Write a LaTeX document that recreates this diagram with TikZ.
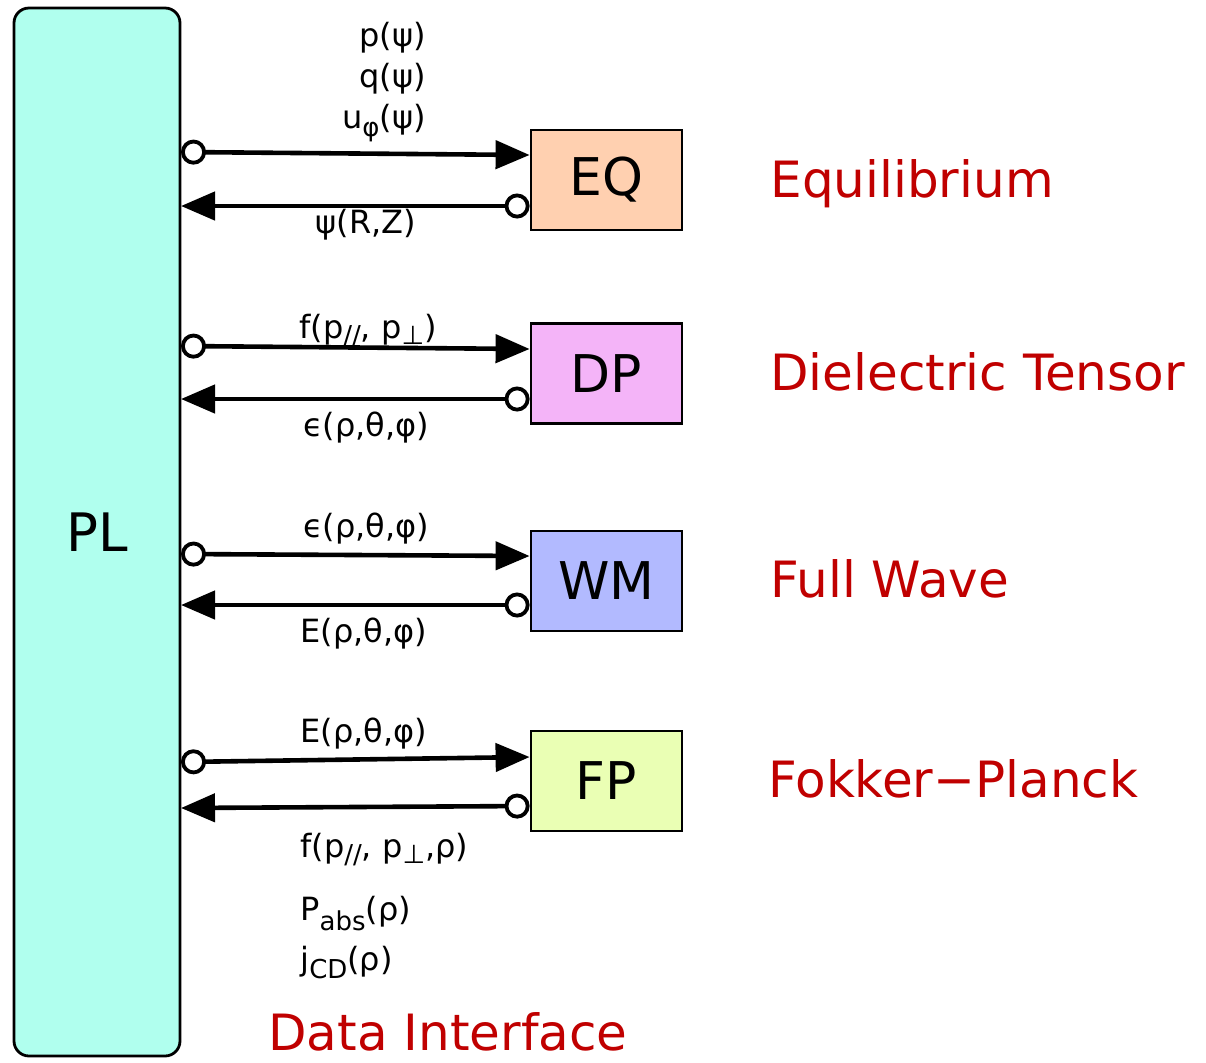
\documentclass[tikz,border=0pt]{standalone}
\usepackage{fontspec}
\setmainfont{DejaVu Sans}
\usetikzlibrary{arrows.meta,positioning}

\definecolor{plcol}{HTML}{B0FFEE}
\definecolor{eqcol}{HTML}{FFD0B0}
\definecolor{dpcol}{HTML}{F4B4F8}
\definecolor{wmcol}{HTML}{B2BAFF}
\definecolor{fpcol}{HTML}{EAFFB4}
\definecolor{titred}{HTML}{C00000}

% lowered subscript, as in the drawing
\newcommand{\dn}[2]{\raisebox{#1}{\fontsize{13}{15}\selectfont #2}}

\begin{document}
\begin{tikzpicture}[x=0.5pt,y=-0.5pt]
\tikzset{
    mod/.style={draw, line width=1.4pt, minimum width=75.5pt, minimum height=50pt, inner sep=0pt, font=\fontsize{26}{30}\selectfont},
    io/.style={line width=2.3pt, {Circle[open, fill=white, length=12.5pt, line width=1.9pt]}-{Triangle[length=17pt, width=14pt]}},
    lbl/.style={inner sep=0pt, anchor=base, font=\fontsize{16}{19}\selectfont},
    ttl/.style={inner sep=0pt, anchor=base west, text=titred, font=\fontsize{25}{30}\selectfont}
}
\useasboundingbox (0,0) rectangle (1206,1062);

% --- nodes ---
\node[draw, line width=1.4pt, rounded corners=7.5pt, fill=plcol, minimum width=83pt, minimum height=524pt, inner sep=0pt, font=\fontsize{26.5}{30}\selectfont] (PL) at (97,532) {PL};

\node[mod, fill=eqcol] (EQ) at (606.5,180) {EQ};
\node[mod, fill=dpcol] (DP) at (606.5,373.5) {DP};
\node[mod, fill=wmcol] (WM) at (606.5,581) {WM};
\node[mod, fill=fpcol] (FP) at (606.5,781) {FP};

% --- free ends on PL ---
\coordinate (eq1) at (181,152);
\coordinate (eq2) at (181,206);
\coordinate (dp1) at (181,346);
\coordinate (dp2) at (181,399);
\coordinate (wm1) at (181,554);
\coordinate (wm2) at (181,605);
\coordinate (fp1) at (181,762);
\coordinate (fp2) at (181,808);

% --- connectors ---
\draw[io] (eq1) -- ([yshift=12.5pt]EQ.west);
\draw[io] ([yshift=-13pt]EQ.west) -- (eq2);
\draw[io] (dp1) -- ([yshift=12.25pt]DP.west);
\draw[io] ([yshift=-12.75pt]DP.west) -- (dp2);
\draw[io] (wm1) -- ([yshift=12.5pt]WM.west);
\draw[io] ([yshift=-12pt]WM.west) -- (wm2);
\draw[io] (fp1) -- ([yshift=12pt]FP.west);
\draw[io] ([yshift=-12.5pt]FP.west) -- (fp2);

% --- data labels ---
\node[lbl, anchor=base east] (eqp) at (426,46) {p(ψ)};
\node[lbl, anchor=base east] (eqq) at (426,87) {q(ψ)};
\node[lbl, anchor=base east] (equ) at (426,128) {u\dn{-4pt}{φ}(ψ)};
\node[lbl] (eqpsi) at (366,233) {ψ(R,Z)};

\node[lbl] (dpf) at (368,338) {f(p\dn{-3pt}{//}, p\dn{-3pt}{⊥})};
\node[lbl] (dpeps) at (366,436) {ϵ(ρ,θ,φ)};

\node[lbl] (wmeps) at (366,537) {ϵ(ρ,θ,φ)};
\node[lbl] (wme) at (364,642) {E(ρ,θ,φ)};

\node[lbl] (fpe) at (364,742) {E(ρ,θ,φ)};
\node[lbl, anchor=base west] (fpf) at (300,857) {f(p\dn{-3pt}{//}, p\dn{-3pt}{⊥},ρ)};
\node[lbl, anchor=base west] (fpp) at (300,920) {P\dn{-5pt}{abs}(ρ)};
\node[lbl, anchor=base west] (fpj) at (300,970) {j\dn{-4pt}{CD}(ρ)};

% --- titles ---
\node[ttl] (teq) at (770,197) {Equilibrium};
\node[ttl] (tdp) at (770,390) {Dielectric Tensor};
\node[ttl] (twm) at (770,597) {Full Wave};
\node[ttl] (tfp) at (768,797) {Fokker−Planck};
\node[ttl] (tdi) at (268,1050) {Data Interface};
\end{tikzpicture}
\end{document}
